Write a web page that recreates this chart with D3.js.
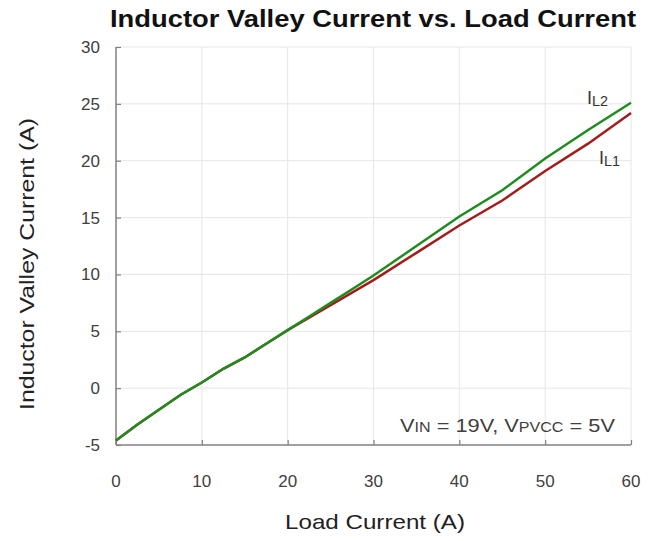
<!doctype html>
<html>
<head>
<meta charset="utf-8">
<title>Inductor Valley Current vs. Load Current</title>
<script src="https://cdn.jsdelivr.net/npm/d3@7"></script>
<style>
  body { margin: 0; background: #fff; }
  svg text { font-family: "Liberation Sans", Arial, sans-serif; }
</style>
</head>
<body>
<svg id="chart" width="659" height="541"></svg>
<script>
// load current (A)
var loadCurrent = [0, 2.5, 5, 7.5, 10, 12.5, 15, 17.5, 20, 22.5, 25, 27.5, 30, 35, 40, 45, 50, 55, 60];
// inductor valley currents (A)
var iL1 = [-4.6, -3.2, -1.9, -0.6, 0.5, 1.7, 2.7, 3.9, 5.1, 6.2, 7.3, 8.4, 9.5, 11.9, 14.3, 16.5, 19.1, 21.5, 24.2];
var iL2 = [-4.6, -3.2, -1.9, -0.6, 0.5, 1.7, 2.7, 3.9, 5.1, 6.3, 7.5, 8.7, 9.9, 12.5, 15.1, 17.4, 20.2, 22.7, 25.1];
var xTicks = [0, 10, 20, 30, 40, 50, 60];
var yTicks = [-5, 0, 5, 10, 15, 20, 25, 30];

var svg = d3.select("#chart");
var margin = {left: 116, right: 28, top: 47, bottom: 96};
var W = 659, H = 541;

var x = d3.scaleLinear().domain([0, 60]).range([margin.left, W - margin.right]);
var y = d3.scaleLinear().domain([-5, 30]).range([H - margin.bottom, margin.top]);

// gridlines
svg.append("g").selectAll("line")
  .data(xTicks.slice(1))
  .enter().append("line")
  .attr("x1", d => x(d)).attr("x2", d => x(d))
  .attr("y1", y(-5)).attr("y2", y(30))
  .attr("stroke", "#e6e6e6").attr("stroke-width", 1);
svg.append("g").selectAll("line")
  .data(yTicks.slice(1))
  .enter().append("line")
  .attr("x1", x(0)).attr("x2", x(60))
  .attr("y1", d => y(d)).attr("y2", d => y(d))
  .attr("stroke", "#e6e6e6").attr("stroke-width", 1);

// axes (ticks pointing inward)
var xAxis = svg.append("g")
  .attr("transform", "translate(0," + y(-5) + ")")
  .call(d3.axisTop(x).tickValues(xTicks).tickSize(5).tickFormat(""));
var yAxis = svg.append("g")
  .attr("transform", "translate(" + x(0) + ",0)")
  .call(d3.axisRight(y).tickValues(yTicks).tickSize(5).tickFormat(""));
[xAxis, yAxis].forEach(function(a) {
  a.select(".domain").remove();
  a.selectAll("line").attr("stroke", "#808080").attr("stroke-width", 1.2);
});
svg.append("line")
  .attr("x1", x(0)).attr("x2", x(60)).attr("y1", y(-5)).attr("y2", y(-5))
  .attr("stroke", "#808080").attr("stroke-width", 1.5);
svg.append("line")
  .attr("x1", x(0)).attr("x2", x(0)).attr("y1", y(-5)).attr("y2", y(30))
  .attr("stroke", "#808080").attr("stroke-width", 1.5);

// tick labels
svg.append("g").selectAll("text")
  .data(xTicks).enter().append("text")
  .attr("x", d => x(d)).attr("y", y(-5) + 42)
  .attr("text-anchor", "middle")
  .attr("font-size", 17).attr("fill", "#404040")
  .text(d => d);
svg.append("g").selectAll("text")
  .data(yTicks).enter().append("text")
  .attr("x", x(0) - 16).attr("y", d => y(d) + 6)
  .attr("text-anchor", "end")
  .attr("font-size", 17).attr("fill", "#404040")
  .text(d => d);

// lines
var line = d3.line().x((d, i) => x(loadCurrent[i])).y(d => y(d));
svg.append("path").datum(iL1)
  .attr("d", line).attr("fill", "none")
  .attr("stroke", "#a31c1c").attr("stroke-width", 2.5);
svg.append("path").datum(iL2)
  .attr("d", line).attr("fill", "none")
  .attr("stroke", "#1f8c1f").attr("stroke-width", 2.5);

// series labels
function subLabel(px, py, main, sub, size) {
  var t = svg.append("text").attr("x", px).attr("y", py)
    .attr("font-size", size).attr("fill", "#333");
  t.append("tspan").text(main);
  t.append("tspan").attr("font-size", size * 0.8).attr("dy", 2).text(sub);
  return t;
}
subLabel(587, 104, "I", "L2", 18);
subLabel(599, 164, "I", "L1", 18);

// conditions note
var note = svg.append("text").attr("x", 400).attr("y", 432)
  .attr("font-size", 19).attr("fill", "#404040")
  .attr("textLength", 215).attr("lengthAdjust", "spacingAndGlyphs");
note.append("tspan").text("V");
note.append("tspan").attr("font-size", 14).text("IN");
note.append("tspan").text(" = 19V, V");
note.append("tspan").attr("font-size", 14).text("PVCC");
note.append("tspan").text(" = 5V");

// title and axis titles
svg.append("text")
  .attr("x", 373).attr("y", 27)
  .attr("text-anchor", "middle")
  .attr("font-size", 24).attr("font-weight", "bold").attr("fill", "#111")
  .attr("textLength", 526).attr("lengthAdjust", "spacingAndGlyphs")
  .text("Inductor Valley Current vs. Load Current");
svg.append("text")
  .attr("x", 375).attr("y", 529)
  .attr("text-anchor", "middle")
  .attr("font-size", 21).attr("fill", "#222")
  .attr("textLength", 180).attr("lengthAdjust", "spacingAndGlyphs")
  .text("Load Current (A)");
svg.append("text")
  .attr("transform", "translate(34,264) rotate(-90)")
  .attr("text-anchor", "middle")
  .attr("font-size", 21).attr("fill", "#222")
  .attr("textLength", 292).attr("lengthAdjust", "spacingAndGlyphs")
  .text("Inductor Valley Current (A)");
</script>
</body>
</html>
